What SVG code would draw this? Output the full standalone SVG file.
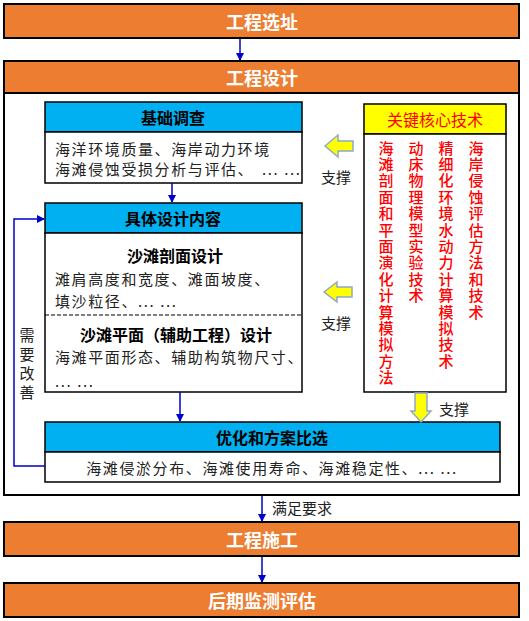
<svg xmlns="http://www.w3.org/2000/svg" width="529" height="621" viewBox="0 0 529 621">
<defs>
<style>
text{font-family:"Noto Sans CJK SC","Liberation Sans",sans-serif;}
.orange{fill:#ED7D31;stroke:#000;stroke-width:2;}
.title{fill:#fff;font-size:18px;font-weight:bold;text-anchor:middle;dominant-baseline:central;}
.frame{fill:#fff;stroke:#000;stroke-width:2;}
.hdr{fill:#00B0F0;stroke:#000;stroke-width:1.5;}
.body{fill:#fff;stroke:#000;stroke-width:1.5;}
.htxt{fill:#000;font-size:16px;font-weight:bold;text-anchor:middle;dominant-baseline:central;}
.txt{fill:#222;font-size:15px;dominant-baseline:central;letter-spacing:1.6px;}
.btxt{fill:#000;font-size:16px;font-weight:bold;text-anchor:middle;dominant-baseline:central;}
.red{fill:#FF0000;font-size:15px;font-weight:500;writing-mode:vertical-rl;letter-spacing:1.4px;}
.lbl{fill:#222;font-size:15px;text-anchor:middle;dominant-baseline:central;}
.vlbl{fill:#222;font-size:15px;writing-mode:vertical-rl;letter-spacing:4px;}
.conn{stroke:#0000CC;stroke-width:1.5;fill:none;}
.yarrow{fill:#FFFF00;stroke:#8EA9C8;stroke-width:1.5;}
</style>
<marker id="ah" markerWidth="8" markerHeight="8" refX="7" refY="4" orient="auto" markerUnits="userSpaceOnUse">
<path d="M0,0 L8,4 L0,8 Z" fill="#0000CC"/>
</marker>
</defs>
<rect width="529" height="621" fill="#fff"/>

<g id="n-site">
<rect class="orange" x="4" y="4" width="515" height="34"/>
<text class="title" x="262" y="21">工程选址</text>
</g>

<g id="n-design">
<rect class="frame" x="4" y="61" width="515" height="434"/>
<rect class="orange" x="4" y="61" width="515" height="32"/>
<text class="title" x="262" y="77">工程设计</text>
</g>

<g id="n-survey">
<rect class="hdr" x="45" y="102" width="257" height="30"/>
<rect class="body" x="45" y="132" width="257" height="51"/>
<text class="htxt" x="173" y="117">基础调查</text>
<text class="txt" x="55" y="148">海洋环境质量、海岸动力环境</text>
<text class="txt" x="55" y="168">海滩侵蚀受损分析与评估、  <tspan x="262">... ...</tspan></text>
</g>

<g id="n-content">
<rect class="hdr" x="45" y="203" width="257" height="30"/>
<rect class="body" x="45" y="233" width="257" height="159"/>
<text class="htxt" x="173" y="218">具体设计内容</text>
<text class="btxt" x="175" y="255">沙滩剖面设计</text>
<text class="txt" x="55" y="278">滩肩高度和宽度、滩面坡度、</text>
<text class="txt" x="55" y="300">填沙粒径、... ...</text>
<line x1="45" y1="315" x2="302" y2="315" stroke="#000" stroke-width="1.2" stroke-dasharray="4,2"/>
<text class="btxt" x="176" y="334">沙滩平面（辅助工程）设计</text>
<text class="txt" x="55" y="356">海滩平面形态、辅助构筑物尺寸、</text>
<text class="txt" x="55" y="380">... ...</text>
</g>

<g id="n-optimize">
<rect class="hdr" x="45" y="422" width="455" height="30"/>
<rect class="body" x="45" y="452" width="455" height="30"/>
<text class="htxt" x="272" y="437">优化和方案比选</text>
<text class="txt" x="272" y="467" text-anchor="middle">海滩侵淤分布、海滩使用寿命、海滩稳定性、... ...</text>
</g>

<g id="n-tech">
<rect x="364" y="104" width="142" height="30" fill="#FFFF00" stroke="#000" stroke-width="1.5"/>
<rect class="body" x="364" y="134" width="142" height="258"/>
<text x="435" y="119" fill="#FF0000" font-size="16" text-anchor="middle" dominant-baseline="central">关键核心技术</text>
<text class="red" x="386" y="140.5">海滩剖面和平面演化计算模拟方法</text>
<text class="red" x="416" y="140.5">动床物理模型实验技术</text>
<text class="red" x="446" y="140.5">精细化环境水动力计算模拟技术</text>
<text class="red" x="476" y="140.5">海岸侵蚀评估方法和技术</text>
</g>

<g id="n-build">
<rect class="orange" x="4" y="522" width="515" height="34"/>
<text class="title" x="262" y="539">工程施工</text>
</g>

<g id="n-monitor">
<rect class="orange" x="4" y="583" width="515" height="34"/>
<text class="title" x="262" y="600">后期监测评估</text>
</g>

<g id="connectors">
<line class="conn" x1="240" y1="39" x2="240" y2="60" marker-end="url(#ah)"/>
<line class="conn" x1="172" y1="183" x2="172" y2="202" marker-end="url(#ah)"/>
<line class="conn" x1="180" y1="392" x2="180" y2="421" marker-end="url(#ah)"/>
<polyline class="conn" points="45,466 14,466 14,219 44,219" marker-end="url(#ah)"/>
<text class="vlbl" x="27" y="327.5">需要改善</text>
<line class="conn" x1="262" y1="496" x2="262" y2="521" marker-end="url(#ah)"/>
<text class="lbl" x="302" y="507">满足要求</text>
<line class="conn" x1="262" y1="557" x2="262" y2="582" marker-end="url(#ah)"/>
<polygon class="yarrow" points="325,146 338,135 338,141 353,141 353,151 338,151 338,157"/>
<text class="lbl" x="336" y="176">支撑</text>
<polygon class="yarrow" points="324,292 337,282 337,287 352,287 352,297 337,297 337,302"/>
<text class="lbl" x="336" y="322">支撑</text>
<polygon class="yarrow" points="415,393 427,393 427,411 431,411 421,422 411,411 415,411"/>
<text class="lbl" x="454" y="408">支撑</text>
</g>
</svg>
